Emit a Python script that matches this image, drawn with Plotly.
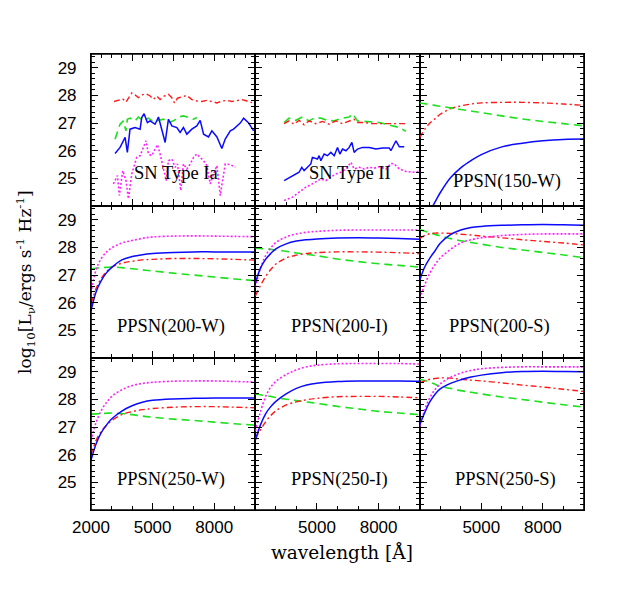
import plotly.graph_objects as go
from plotly.subplots import make_subplots

# ---- observed supernovae (noisy spectra) ----
ia_red_wl = [3120, 3330, 3545, 3705, 3820, 3985, 4145, 4310, 4470, 4685, 4880, 5040, 5205, 5365, 5560, 5770, 5935,
             6065, 6210, 6425, 6665, 6910, 7155, 7400, 7640, 7885, 8130, 8375, 8620, 8860, 9105, 9350, 9595, 9840]
ia_red = [27.78, 27.82, 27.87, 27.76, 27.90, 28.09, 28.02, 27.92, 28.02, 28.06, 27.98, 27.86, 27.98, 27.85, 27.98,
          28.04, 27.92, 27.73, 27.90, 27.94, 28.00, 27.85, 27.80, 27.78, 27.82, 27.78, 27.73, 27.80, 27.82, 27.78,
          27.82, 27.85, 27.80, 27.74]
ia_green_wl = [3170, 3415, 3575, 3700, 3770, 3900, 4145, 4310, 4550, 4795, 5040, 5285, 5530, 5770, 6015, 6260,
               6500, 6745, 6990, 7150]
ia_green = [26.42, 26.96, 27.08, 26.72, 27.14, 27.18, 27.08, 27.22, 27.08, 27.18, 27.05, 27.10, 27.14, 27.02,
            27.08, 27.22, 27.26, 27.20, 27.14, 27.20]
ia_blue_wl = [3170, 3415, 3660, 3770, 3900, 4145, 4390, 4470, 4585, 4745, 4875, 5120, 5285, 5610, 5770, 5935,
              6180, 6340, 6500, 6665, 6910, 7150, 7315, 7480, 7720, 7885, 8130, 8370, 8535, 8780, 8940, 9265,
              9430, 9675, 9920]
ia_blue = [25.90, 26.12, 26.48, 25.94, 26.78, 26.84, 26.78, 27.20, 27.34, 27.02, 27.08, 26.96, 27.22, 26.30,
           27.14, 26.90, 26.84, 26.66, 26.84, 26.60, 26.78, 26.90, 27.10, 26.60, 26.50, 26.72, 26.50, 26.08,
           26.42, 26.72, 26.78, 27.00, 27.18, 27.00, 26.72]
ia_magenta_wl = [3090, 3285, 3380, 3545, 3705, 3820, 3985, 4225, 4390, 4550, 4680, 4795, 4960, 5120, 5235, 5365,
                 5525, 5660, 5770, 5935, 6095, 6210, 6370, 6500, 6665, 6830, 6990, 7150, 7315, 7480, 7640, 7805,
                 7965, 8130, 8290, 8420, 8535, 8780, 9025]
ia_magenta = [24.80, 25.10, 24.38, 25.28, 24.92, 24.26, 25.16, 25.76, 25.82, 26.12, 26.36, 25.88, 25.82, 26.06,
              26.22, 25.88, 25.40, 24.92, 25.64, 25.70, 25.40, 25.52, 24.56, 25.52, 25.34, 25.52, 25.76, 25.88,
              25.76, 25.64, 25.46, 24.80, 25.16, 25.46, 24.38, 24.92, 25.52, 25.50, 25.40]

ii_green_wl = [3400, 3640, 3970, 4290, 4620, 4860, 5190, 5510, 5840, 6245, 6570, 6730, 6975, 7380, 7710, 8030,
               8360, 8680, 9010, 9335]
ii_green = [27.02, 27.18, 27.10, 27.22, 27.08, 27.18, 27.18, 27.10, 27.08, 27.18, 27.22, 27.34, 27.08, 27.05,
            27.05, 27.02, 26.96, 26.90, 26.84, 26.70]
ii_red_wl = [3400, 3640, 3886, 4130, 4375, 4620, 4945, 5270, 5595, 5920, 6245, 6570, 6810, 6975, 7300, 7710,
             8030, 8360, 8680, 9010, 9335]
ii_red = [26.98, 27.08, 26.96, 27.10, 26.94, 27.08, 26.98, 27.06, 26.96, 27.08, 26.98, 27.08, 27.14, 27.02,
          27.02, 26.98, 26.98, 26.98, 26.98, 26.98, 26.98]
ii_blue_wl = [3400, 4130, 4260, 4375, 4700, 4780, 5025, 5105, 5190, 5350, 5510, 5675, 5840, 6000, 6115, 6245,
              6410, 6570, 6700, 6810, 6975, 7220, 7545, 7870, 8195, 8520, 8600, 8845, 9010, 9250]
ii_blue = [24.92, 25.22, 25.40, 25.28, 25.52, 25.76, 25.70, 25.82, 25.64, 25.88, 25.82, 25.94, 25.82, 26.12,
           25.88, 26.06, 26.00, 26.12, 26.30, 25.94, 26.06, 26.12, 26.12, 26.06, 26.10, 26.10, 26.00, 26.36,
           26.14, 26.14]
ii_magenta_wl = [3400, 3810, 4130, 4460, 4700, 4945, 5190, 5430, 5675, 5920, 6160, 6410, 6650, 6810, 7055, 7300,
                 7545, 7790, 8030, 8360, 8600, 8760, 9010, 9335, 9660, 9985]
ii_magenta = [24.20, 24.32, 24.50, 24.68, 24.77, 24.86, 24.98, 24.92, 25.04, 25.16, 25.22, 25.34, 25.58, 25.34,
              25.40, 25.34, 25.40, 25.37, 25.42, 25.34, 25.54, 25.52, 25.34, 25.25, 25.22, 25.25]

# ---- pair-instability SN models, sampled on a common wavelength grid ----
wl_grid = [2000, 2250, 2500, 2750, 3000, 3500, 4000, 4500, 5000, 6000, 7000, 8000, 9000, 10000]

p150w_red = [26.48, 26.78, 27.00, 27.16, 27.32, 27.52, 27.62, 27.69, 27.73, 27.75, 27.75, 27.73, 27.69, 27.64]
p150w_green = [27.73, 27.70, 27.67, 27.64, 27.61, 27.55, 27.49, 27.44, 27.38, 27.26, 27.15, 27.06, 26.98, 26.90]
p150w_blue = [22.90, 23.35, 23.80, 24.15, 24.48, 25.02, 25.38, 25.64, 25.86, 26.14, 26.27, 26.36, 26.41, 26.42]

p200w_magenta = [26.35, 27.20, 27.60, 27.83, 27.98, 28.16, 28.25, 28.33, 28.38, 28.41, 28.42, 28.41, 28.40, 28.39]
p200w_blue = [25.70, 26.40, 26.80, 27.08, 27.27, 27.55, 27.67, 27.74, 27.78, 27.82, 27.84, 27.84, 27.84, 27.84]
p200w_red = [25.95, 26.52, 26.88, 27.12, 27.28, 27.43, 27.50, 27.55, 27.57, 27.60, 27.60, 27.59, 27.57, 27.54]
p200w_green = [27.23, 27.25, 27.27, 27.28, 27.29, 27.27, 27.23, 27.19, 27.15, 27.07, 27.00, 26.93, 26.86, 26.80]

p200i_magenta = [26.55, 27.25, 27.70, 27.98, 28.18, 28.38, 28.49, 28.55, 28.58, 28.62, 28.63, 28.63, 28.63, 28.63]
p200i_blue = [26.70, 27.25, 27.57, 27.78, 27.95, 28.13, 28.23, 28.28, 28.31, 28.34, 28.35, 28.34, 28.32, 28.30]
p200i_red = [26.25, 26.62, 26.95, 27.20, 27.40, 27.62, 27.72, 27.78, 27.81, 27.84, 27.84, 27.83, 27.81, 27.78]
p200i_green = [27.97, 27.96, 27.95, 27.93, 27.91, 27.86, 27.80, 27.75, 27.70, 27.58, 27.49, 27.41, 27.35, 27.29]

p200s_magenta = [26.15, 26.65, 27.08, 27.38, 27.62, 27.93, 28.16, 28.28, 28.35, 28.43, 28.47, 28.49, 28.49, 28.49]
p200s_blue = [26.80, 27.30, 27.62, 27.88, 28.15, 28.46, 28.63, 28.72, 28.76, 28.80, 28.82, 28.83, 28.82, 28.80]
p200s_red = [28.33, 28.44, 28.50, 28.52, 28.52, 28.51, 28.48, 28.45, 28.41, 28.35, 28.28, 28.22, 28.16, 28.09]
p200s_green = [28.65, 28.59, 28.53, 28.47, 28.42, 28.32, 28.24, 28.18, 28.12, 28.00, 27.91, 27.82, 27.73, 27.63]

p250w_magenta = [26.50, 27.18, 27.60, 27.89, 28.10, 28.35, 28.50, 28.58, 28.62, 28.66, 28.67, 28.67, 28.65, 28.63]
p250w_blue = [25.80, 26.40, 26.80, 27.07, 27.29, 27.58, 27.77, 27.90, 27.97, 28.02, 28.04, 28.05, 28.05, 28.05]
p250w_red = [26.00, 26.52, 26.85, 27.06, 27.23, 27.45, 27.56, 27.63, 27.67, 27.72, 27.74, 27.74, 27.72, 27.70]
p250w_green = [27.47, 27.48, 27.49, 27.50, 27.51, 27.49, 27.45, 27.40, 27.36, 27.29, 27.24, 27.18, 27.12, 27.07]

p250i_magenta = [26.85, 27.56, 28.10, 28.45, 28.65, 28.90, 29.07, 29.18, 29.24, 29.29, 29.30, 29.30, 29.30, 29.28]
p250i_blue = [26.52, 27.08, 27.48, 27.74, 27.93, 28.20, 28.40, 28.52, 28.59, 28.65, 28.67, 28.67, 28.67, 28.66]
p250i_red = [26.58, 26.90, 27.19, 27.42, 27.59, 27.80, 27.91, 27.99, 28.04, 28.10, 28.11, 28.11, 28.09, 28.06]
p250i_green = [28.19, 28.17, 28.14, 28.11, 28.07, 28.01, 27.96, 27.91, 27.86, 27.75, 27.66, 27.57, 27.51, 27.45]

p250s_magenta = [27.02, 27.63, 28.07, 28.36, 28.56, 28.80, 28.95, 29.05, 29.11, 29.16, 29.18, 29.18, 29.18, 29.18]
p250s_blue = [27.08, 27.53, 27.92, 28.19, 28.38, 28.58, 28.71, 28.81, 28.88, 28.97, 29.01, 29.02, 29.01, 29.00]
p250s_red = [28.60, 28.67, 28.73, 28.76, 28.78, 28.77, 28.73, 28.70, 28.67, 28.60, 28.52, 28.45, 28.37, 28.29]
p250s_green = [28.72, 28.68, 28.63, 28.55, 28.48, 28.40, 28.32, 28.26, 28.20, 28.09, 28.00, 27.90, 27.81, 27.72]

panel_labels = ["SN Type Ia", "SN Type II", "PPSN(150-W)",
                "PPSN(200-W)", "PPSN(200-I)", "PPSN(200-S)",
                "PPSN(250-W)", "PPSN(250-I)", "PPSN(250-S)"]

# line styles
style = {
    "red": dict(color="#ff1a1a", dash="6px,3px,2px,3px", width=1.4),
    "green": dict(color="#1ee01e", dash="8px,5px", width=1.6),
    "blue": dict(color="#0a0aff", dash="solid", width=1.5),
    "magenta": dict(color="#ff22ff", dash="2px,2px", width=1.6),
}

fig = make_subplots(rows=3, cols=3, horizontal_spacing=0, vertical_spacing=0)


def add_line(x, y, key, row, col, smooth=False):
    fig.add_trace(go.Scatter(x=x, y=y, mode="lines", line=style[key],
                             line_shape="spline" if smooth else "linear",
                             showlegend=False, hoverinfo="skip"),
                  row=row, col=col)


# top row: observed SNe
add_line(ia_red_wl, ia_red, "red", 1, 1)
add_line(ia_green_wl, ia_green, "green", 1, 1)
add_line(ia_blue_wl, ia_blue, "blue", 1, 1)
add_line(ia_magenta_wl, ia_magenta, "magenta", 1, 1)

add_line(ii_green_wl, ii_green, "green", 1, 2)
add_line(ii_red_wl, ii_red, "red", 1, 2)
add_line(ii_blue_wl, ii_blue, "blue", 1, 2)
add_line(ii_magenta_wl, ii_magenta, "magenta", 1, 2)

add_line(wl_grid, p150w_red, "red", 1, 3, True)
add_line(wl_grid, p150w_green, "green", 1, 3, True)
add_line(wl_grid, p150w_blue, "blue", 1, 3, True)

models = [
    (2, 1, p200w_magenta, p200w_blue, p200w_red, p200w_green),
    (2, 2, p200i_magenta, p200i_blue, p200i_red, p200i_green),
    (2, 3, p200s_magenta, p200s_blue, p200s_red, p200s_green),
    (3, 1, p250w_magenta, p250w_blue, p250w_red, p250w_green),
    (3, 2, p250i_magenta, p250i_blue, p250i_red, p250i_green),
    (3, 3, p250s_magenta, p250s_blue, p250s_red, p250s_green),
]
for r, c, mg, bl, rd, gr in models:
    add_line(wl_grid, gr, "green", r, c, True)
    add_line(wl_grid, rd, "red", r, c, True)
    add_line(wl_grid, mg, "magenta", r, c, True)
    add_line(wl_grid, bl, "blue", r, c, True)

# panel labels (x centre in Angstrom, y in log L)
label_pos = [(6150, 25.2), (6630, 25.2), (6270, 24.88),
             (5900, 25.15), (6100, 25.15), (5900, 25.15),
             (5900, 25.12), (6100, 25.12), (6200, 25.12)]
for i, txt in enumerate(panel_labels):
    r, c = i // 3 + 1, i % 3 + 1
    fig.add_annotation(x=label_pos[i][0], y=label_pos[i][1], text=txt, showarrow=False,
                       font=dict(family="Liberation Serif", size=18.5, color="black"),
                       row=r, col=c)

axis_common = dict(ticks="inside", mirror="allticks", showline=True, linecolor="black",
                   linewidth=1.1, ticklen=7, tickwidth=1.2, tickcolor="black",
                   showgrid=False, zeroline=False, automargin=False,
                   tickfont=dict(family="Liberation Sans", size=17, color="black"))

for r in range(1, 4):
    for c in range(1, 4):
        if r == 1:
            xt = dict(tickmode="array", tickvals=[4000, 6000, 8000],
                      minor=dict(ticks="inside", ticklen=4, tickwidth=1.0, tickcolor="black",
                                 dtick=500, tick0=2000, showgrid=False))
        else:
            xt = dict(tickmode="array", tickvals=[2000, 5000, 8000],
                      ticktext=["2000" if c == 1 else "", "5000", "8000"],
                      minor=dict(ticks="inside", ticklen=4, tickwidth=1.0, tickcolor="black",
                                 dtick=1000, tick0=2000, showgrid=False))
        fig.update_xaxes(range=[2000, 10000], showticklabels=(r == 3), ticklabelstandoff=2,
                         **xt, **axis_common, row=r, col=c)
        fig.update_yaxes(range=[24, 29.5], tickmode="array", tickvals=[25, 26, 27, 28, 29],
                         showticklabels=(c == 1), ticklabelstandoff=10,
                         minor=dict(ticks="inside", ticklen=4, tickwidth=1.0, tickcolor="black",
                                    dtick=0.2, tick0=24, showgrid=False),
                         **axis_common, row=r, col=c)

# heavier outer frame
fig.add_shape(type="rect", xref="paper", yref="paper", x0=0, x1=1, y0=0, y1=1,
              line=dict(color="black", width=1.6), fillcolor="rgba(0,0,0,0)")

fig.add_annotation(xref="paper", yref="paper", x=0.509, y=-0.094, xanchor="center", yanchor="middle",
                   text="wavelength [Å]", showarrow=False,
                   font=dict(family="DejaVu Serif", size=18.5, color="black"))
fig.add_annotation(xref="paper", yref="paper", x=-0.134, y=0.5, xanchor="center", yanchor="middle",
                   textangle=-90,
                   text="log<sub>10</sub>[L<sub>ν</sub>/ergs s<sup>-1</sup> Hz<sup>-1</sup>]",
                   showarrow=False, font=dict(family="DejaVu Serif", size=17, color="black"))

# the page body adds an 8px offset, so margins are trimmed to land the frame where the original is
fig.update_layout(width=617, height=590, margin=dict(l=83, r=41, t=46, b=88),
                  plot_bgcolor="white", paper_bgcolor="white")

fig.write_html("out.html")
